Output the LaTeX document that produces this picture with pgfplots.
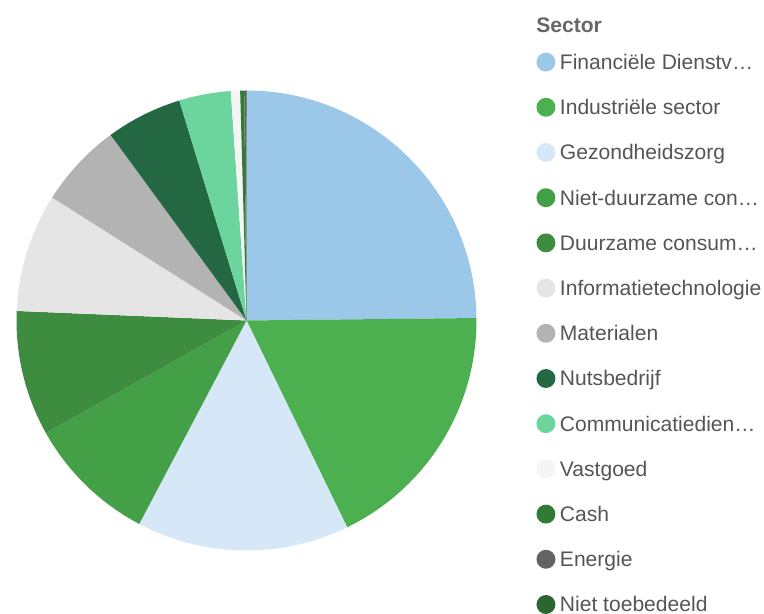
\documentclass[border=0pt]{standalone}
\usepackage{fontspec}
\setmainfont{Liberation Sans}
\usepackage{pgfplots}
\usepackage{pgfplotstable}
\pgfplotsset{compat=1.18}

\definecolor{c0}{HTML}{9BC8E8}
\definecolor{c1}{HTML}{4CAF50}
\definecolor{c2}{HTML}{D6E8F8}
\definecolor{c3}{HTML}{43A047}
\definecolor{c4}{HTML}{3D8C40}
\definecolor{c5}{HTML}{E5E5E5}
\definecolor{c6}{HTML}{B3B3B3}
\definecolor{c7}{HTML}{236843}
\definecolor{c8}{HTML}{6CD59E}
\definecolor{c9}{HTML}{F5F5F5}
\definecolor{c10}{HTML}{2E7D32}
\definecolor{c11}{HTML}{636363}
\definecolor{c12}{HTML}{2B6630}
\definecolor{legtext}{HTML}{555555}
\definecolor{titletext}{HTML}{666666}

% sector shares (percent)
\pgfplotstableread{
idx value
0  24.83
1  17.96
2  14.93
3  9.14
4  8.80
5  8.32
6  5.96
7  5.34
8  3.63
9  0.65
10 0.28
11 0.14
12 0.02
}\piedata

\def\cx{246.5}
\def\cy{293.5}
\def\rad{172.5pt}
\gdef\slices{}
\gdef\cum{0}
\pgfplotstableforeachcolumnelement{value}\of\piedata\as\v{%
  \pgfmathsetmacro\sa{90-3.6*\cum}%
  \pgfmathsetmacro\sb{90-3.6*(\cum+\v)}%
  \xdef\slices{\slices\noexpand\fill[fill=c\pgfplotstablerow] (axis cs:\cx,\cy) -- ([shift={(\sa:\rad)}]axis cs:\cx,\cy) arc[start angle=\sa, end angle=\sb, radius=\rad] -- cycle;}%
  \pgfmathsetmacro\newcum{\cum+\v}%
  \global\let\cum\newcum
}

\begin{document}
\begin{tikzpicture}
\begin{axis}[
  name=ax,
  x=0.75pt, y=0.75pt,
  xmin=0, xmax=764, ymin=0, ymax=614,
  hide axis, clip=false,
  legend style={
    at={(0.7022,0.9143)}, anchor=north west,
    draw=none, fill=none, inner sep=0pt, outer sep=0pt,
    font=\fontsize{15.8}{18}\selectfont, text=legtext,
    row sep=18.2pt, column sep=3.4pt,
    nodes={inner sep=0pt, text height=12pt, text depth=3pt},
  },
  legend cell align=left,
  legend image code/.code={\fill[#1] (7.1pt,1.1pt) circle (7.1pt);},
]
\addplot[draw=none, forget plot] coordinates {(0,0) (764,614)};
\slices
\node[anchor=base west, inner sep=0pt, text=titletext, font=\fontsize{15.8}{18}\selectfont\bfseries] at (axis cs:536,581.4) {Sector};
\addlegendimage{fill=c0, draw=none}
\addlegendentry{Financiële Dienstv…}
\addlegendimage{fill=c1, draw=none}
\addlegendentry{Industriële sector}
\addlegendimage{fill=c2, draw=none}
\addlegendentry{Gezondheidszorg}
\addlegendimage{fill=c3, draw=none}
\addlegendentry{Niet-duurzame con…}
\addlegendimage{fill=c4, draw=none}
\addlegendentry{Duurzame consum…}
\addlegendimage{fill=c5, draw=none}
\addlegendentry{Informatietechnologie}
\addlegendimage{fill=c6, draw=none}
\addlegendentry{Materialen}
\addlegendimage{fill=c7, draw=none}
\addlegendentry{Nutsbedrijf}
\addlegendimage{fill=c8, draw=none}
\addlegendentry{Communicatiedien…}
\addlegendimage{fill=c9, draw=none}
\addlegendentry{Vastgoed}
\addlegendimage{fill=c10, draw=none}
\addlegendentry{Cash}
\addlegendimage{fill=c11, draw=none}
\addlegendentry{Energie}
\addlegendimage{fill=c12, draw=none}
\addlegendentry{Niet toebedeeld}
\end{axis}
\pgfresetboundingbox
\path (ax.south west) rectangle (ax.north east);
\end{tikzpicture}
\end{document}
